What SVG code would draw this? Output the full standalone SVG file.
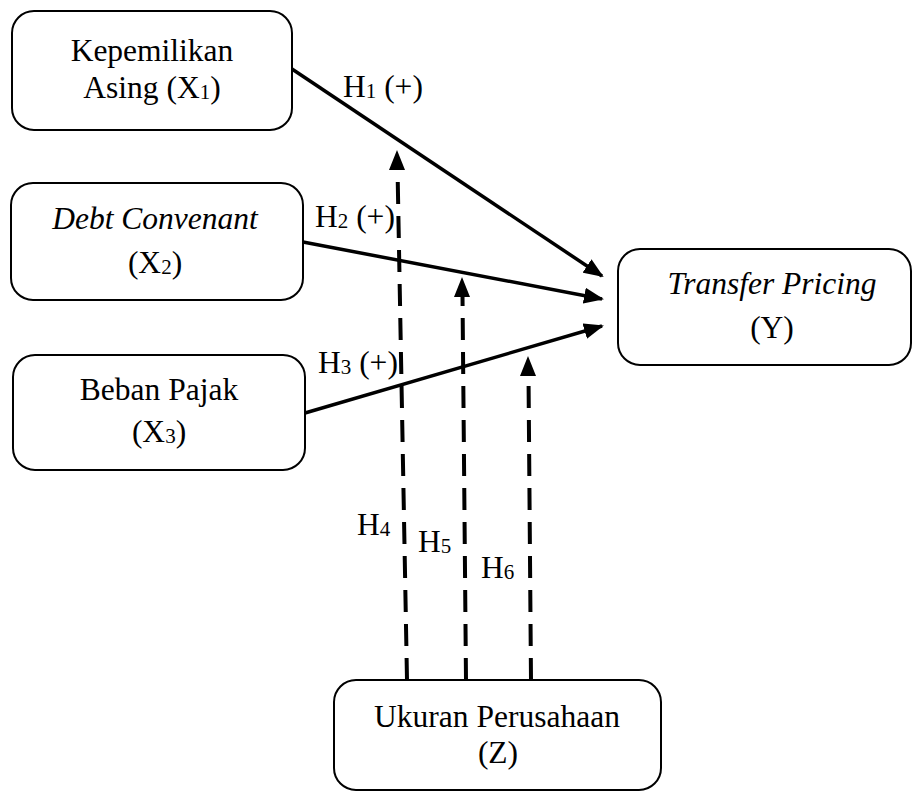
<svg xmlns="http://www.w3.org/2000/svg" width="913" height="791" viewBox="0 0 913 791">
<style>
.box{fill:#fff;stroke:#000;stroke-width:2}
.t{font-family:"Liberation Serif","Times New Roman",serif;font-size:31.5px;fill:#000;text-anchor:middle}
.l{font-family:"Liberation Serif","Times New Roman",serif;font-size:31.5px;fill:#000}
.i{font-style:italic}
.sub{font-size:21px}
.solid{stroke:#000;stroke-width:3.5;fill:none}
.dash{stroke:#000;stroke-width:4;fill:none;stroke-dasharray:22 12}
</style>
<defs>
<marker id="ah" markerUnits="userSpaceOnUse" markerWidth="20" markerHeight="16" refX="18" refY="8" orient="auto">
<path d="M0,0 L20,8 L0,16 Z" fill="#000"/>
</marker>
</defs>
<g id="connectors">
<line class="solid" x1="292" y1="69" x2="602" y2="276" marker-end="url(#ah)"/>
<line class="solid" x1="303" y1="242" x2="602" y2="299" marker-end="url(#ah)"/>
<line class="solid" x1="305" y1="413" x2="602" y2="326" marker-end="url(#ah)"/>
<line class="dash" x1="407" y1="680" x2="397.5" y2="168"/>
<path d="M397,150 L389,170 L405,170 Z" fill="#000"/>
<line class="dash" x1="466" y1="680" x2="462.5" y2="295"/>
<path d="M462,277 L454,297 L470,297 Z" fill="#000"/>
<line class="dash" x1="531" y1="680" x2="528.5" y2="374"/>
<path d="M528,356 L520,376 L536,376 Z" fill="#000"/>
<text class="l" x="343" y="97">H<tspan class="sub" dy="1">1</tspan><tspan dy="-1"> (+)</tspan></text>
<text class="l" x="315" y="227">H<tspan class="sub" dy="1">2</tspan><tspan dy="-1"> (+)</tspan></text>
<text class="l" x="318" y="373">H<tspan class="sub" dy="1">3</tspan><tspan dy="-1"> (+)</tspan></text>
<text class="l" x="357" y="535">H<tspan class="sub" dy="1">4</tspan></text>
<text class="l" x="418" y="552">H<tspan class="sub" dy="1">5</tspan></text>
<text class="l" x="481" y="578">H<tspan class="sub" dy="1">6</tspan></text>
</g>
<g id="x1">
<rect class="box" x="12" y="11" width="280" height="119" rx="22"/>
<text class="t" x="152" y="61">Kepemilikan</text>
<text class="t" x="152" y="98">Asing (X<tspan class="sub" dy="1">1</tspan><tspan dy="-1">)</tspan></text>
</g>
<g id="x2">
<rect class="box" x="11" y="183" width="292" height="117" rx="22"/>
<text class="t i" x="155" y="229">Debt Convenant</text>
<text class="t" x="155" y="273">(X<tspan class="sub" dy="1">2</tspan><tspan dy="-1">)</tspan></text>
</g>
<g id="x3">
<rect class="box" x="13" y="355" width="292" height="115" rx="22"/>
<text class="t" x="159" y="400">Beban Pajak</text>
<text class="t" x="159" y="442">(X<tspan class="sub" dy="1">3</tspan><tspan dy="-1">)</tspan></text>
</g>
<g id="y">
<rect class="box" x="618" y="249" width="293" height="116" rx="22"/>
<text class="t i" x="772" y="294">Transfer Pricing</text>
<text class="t" x="772" y="338">(Y)</text>
</g>
<g id="z">
<rect class="box" x="334" y="680" width="327" height="110" rx="22"/>
<text class="t" x="497" y="727">Ukuran Perusahaan</text>
<text class="t" x="498" y="763">(Z)</text>
</g>
</svg>
